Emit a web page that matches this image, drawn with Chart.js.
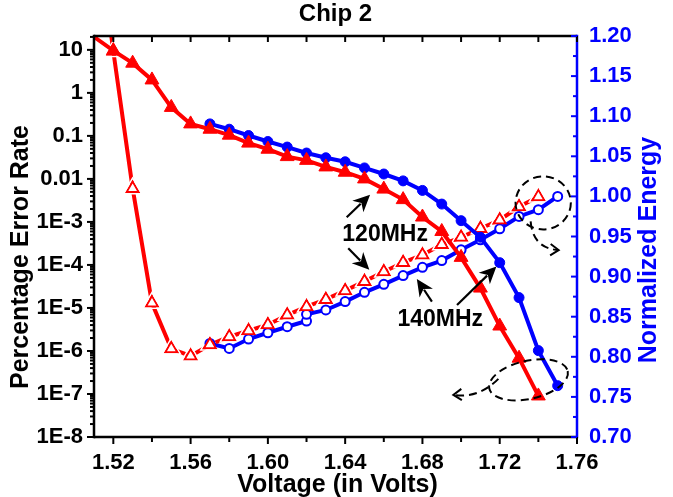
<!DOCTYPE html>
<html>
<head>
<meta charset="utf-8">
<script src="https://cdn.jsdelivr.net/npm/chart.js@4.4.0/dist/chart.umd.min.js"></script>
<style>
  html, body { margin: 0; padding: 0; background: #fff; }
  #wrap { width: 673px; height: 497px; }
</style>
</head>
<body>
<div id="wrap"><canvas id="chart"></canvas></div>
<script>
// Chip 2 - error rate (left, log) and normalized energy (right) vs voltage

// filled markers: percentage error rate
const errVolt120 = [1.51, 1.52, 1.53, 1.54, 1.55, 1.56, 1.57, 1.58, 1.59, 1.60, 1.61, 1.62,
                    1.63, 1.64, 1.65, 1.66, 1.67, 1.68, 1.69, 1.70, 1.71, 1.72, 1.73, 1.74];
const errRate120 = [20, 9.6, 4.9, 2.0, 0.46, 0.19, 0.143, 0.104, 0.068, 0.049, 0.033, 0.027,
                    0.019, 0.0143, 0.0100, 0.0058, 0.0033, 0.0013, 6.0e-4, 1.5e-4, 2.9e-5, 3.8e-6, 6.8e-7, 9.0e-8];

const errVolt140 = [1.57, 1.58, 1.59, 1.60, 1.61, 1.62, 1.63, 1.64, 1.65, 1.66,
                    1.67, 1.68, 1.69, 1.70, 1.71, 1.72, 1.73, 1.74, 1.75];
const errRate140 = [0.19, 0.143, 0.102, 0.074, 0.055, 0.040, 0.031, 0.025, 0.018, 0.013,
                    0.0090, 0.0054, 0.0026, 0.00107, 4.4e-4, 1.13e-4, 1.74e-5, 1.02e-6, 1.56e-7];

// open markers: normalized energy
const enVolt120 = [1.51, 1.52, 1.53, 1.54, 1.55, 1.56, 1.57, 1.58, 1.59, 1.60, 1.61, 1.62,
                   1.63, 1.64, 1.65, 1.66, 1.67, 1.68, 1.69, 1.70, 1.71, 1.72, 1.73, 1.74];
const energy120 = [1.36, 1.181, 1.010, 0.867, 0.810, 0.801, 0.815, 0.825, 0.8325, 0.840, 0.852, 0.8625,
                   0.8716, 0.8825, 0.894, 0.906, 0.9175, 0.927, 0.940, 0.949, 0.960, 0.9706, 0.987, 0.9996];

const enVolt140 = [1.57, 1.58, 1.59, 1.60, 1.61, 1.62, 1.62, 1.63, 1.64, 1.65,
                   1.66, 1.67, 1.68, 1.69, 1.70, 1.71, 1.72, 1.73, 1.74, 1.75];
const energy140 = [0.8166, 0.8104, 0.8221, 0.830, 0.8375, 0.8446, 0.8529, 0.8584, 0.8688, 0.8804,
                   0.8904, 0.9013, 0.9116, 0.920, 0.9334, 0.9459, 0.9596, 0.975, 0.9834, 1.000];

// axes
const voltTicks = [1.52, 1.56, 1.60, 1.64, 1.68, 1.72, 1.76];
const voltMinor = [1.54, 1.58, 1.62, 1.66, 1.70, 1.74];
const errTicks = [1e-8, 1e-7, 1e-6, 1e-5, 1e-4, 1e-3, 0.01, 0.1, 1, 10];
const errLabels = ['1E-8', '1E-7', '1E-6', '1E-5', '1E-4', '1E-3', '0.01', '0.1', '1', '10'];
const energyTicks = [0.70, 0.75, 0.80, 0.85, 0.90, 0.95, 1.00, 1.05, 1.10, 1.15, 1.20];

const RED = '#ff0000';
const BLUE = '#0000ff';
const FONT = '"Liberation Sans", Arial, sans-serif';

// the open red curve stops just short of its triangles (dataset index -> [inner, outer] circumradius)
const symbolGap = { 2: [9, 12] };

function pairs(xs, ys) {
  return xs.map((x, i) => ({ x: x, y: ys[i] }));
}

function line(ctx, x1, y1, x2, y2) {
  ctx.beginPath();
  ctx.moveTo(x1, y1);
  ctx.lineTo(x2, y2);
  ctx.stroke();
}

function triPath(ctx, x, y, r) {
  for (let k = 0; k < 3; k++) {
    const rad = k * 2 * Math.PI / 3;
    const px = x + Math.sin(rad) * r, py = y - Math.cos(rad) * r;
    if (k === 0) ctx.moveTo(px, py); else ctx.lineTo(px, py);
  }
  ctx.closePath();
}

function arrow(ctx, x1, y1, x2, y2) {
  const ang = Math.atan2(y2 - y1, x2 - x1);
  const hl = 17, hw = 8;
  const bx = x2 - hl * Math.cos(ang), by = y2 - hl * Math.sin(ang);
  line(ctx, x1, y1, bx + 4 * Math.cos(ang), by + 4 * Math.sin(ang));
  ctx.beginPath();
  ctx.moveTo(x2, y2);
  ctx.lineTo(bx + hw * Math.sin(ang), by - hw * Math.cos(ang));
  ctx.lineTo(bx + 5 * Math.cos(ang), by + 5 * Math.sin(ang));
  ctx.lineTo(bx - hw * Math.sin(ang), by + hw * Math.cos(ang));
  ctx.closePath();
  ctx.fill();
}

function chevron(ctx, x, y, ang) {
  const l = 10;
  ctx.setLineDash([]);
  ctx.beginPath();
  ctx.moveTo(x - l * Math.cos(ang - 0.6), y - l * Math.sin(ang - 0.6));
  ctx.lineTo(x, y);
  ctx.lineTo(x - l * Math.cos(ang + 0.6), y - l * Math.sin(ang + 0.6));
  ctx.stroke();
}

const gapToSymbol = {
  id: 'gapToSymbol',
  beforeDatasetDraw(chart, args) {
    const g = symbolGap[args.index];
    if (!g) return;
    const ctx = chart.ctx;
    ctx.save();
    ctx.beginPath();
    ctx.rect(0, 0, chart.width, chart.height);
    args.meta.data.forEach(p => {
      triPath(ctx, p.x, p.y, g[1]);
      triPath(ctx, p.x, p.y, g[0]);
    });
    ctx.clip('evenodd');
  },
  afterDatasetDraw(chart, args) {
    if (symbolGap[args.index]) chart.ctx.restore();
  }
};

// frame, tick marks, titles and the annotations
const decorations = {
  id: 'decorations',
  afterDraw(chart) {
    const { ctx, chartArea: a, scales } = chart;
    const sx = scales.x, sy = scales.y, sr = scales.y1;
    ctx.save();

    // frame
    ctx.lineWidth = 2.5;
    ctx.strokeStyle = '#000';
    line(ctx, a.left, a.top, a.right, a.top);
    line(ctx, a.left, a.bottom, a.right, a.bottom);
    line(ctx, a.left, a.top - 1.2, a.left, a.bottom + 1.2);
    ctx.strokeStyle = BLUE;
    line(ctx, a.right, a.top - 1.2, a.right, a.bottom + 1.2);

    // x ticks: outside at the bottom, inside at the top
    ctx.lineWidth = 2;
    ctx.strokeStyle = '#000';
    voltTicks.concat(voltMinor).forEach(v => {
      const px = sx.getPixelForValue(v);
      const len = voltTicks.includes(v) ? 7 : 5;
      line(ctx, px, a.bottom, px, a.bottom + len);
      line(ctx, px, a.top, px, a.top + 6);
    });

    // log ticks on the left, outside
    errTicks.forEach(t => {
      const py = sy.getPixelForValue(t);
      line(ctx, a.left, py, a.left - 7, py);
      for (let m = 2; m <= 9; m++) {
        const v = t * m;
        if (v > sy.max) break;
        const pm = sy.getPixelForValue(v);
        line(ctx, a.left, pm, a.left - 4, pm);
      }
    });

    // energy ticks on the right, inside
    ctx.strokeStyle = BLUE;
    energyTicks.forEach((t, i) => {
      const py = sr.getPixelForValue(t);
      line(ctx, a.right, py, a.right - 6, py);
      if (i < energyTicks.length - 1) {
        const pm = sr.getPixelForValue(t + 0.025);
        line(ctx, a.right, pm, a.right - 4, pm);
      }
    });

    // titles
    ctx.textAlign = 'center';
    ctx.textBaseline = 'middle';
    ctx.fillStyle = '#000';
    ctx.font = 'bold 24px ' + FONT;
    ctx.fillText('Chip 2', (a.left + a.right) / 2, 14);
    ctx.font = 'bold 25px ' + FONT;
    ctx.fillText('Voltage (in Volts)', (a.left + a.right) / 2 + 2, 485);
    ctx.save();
    ctx.translate(21, 257);
    ctx.rotate(-Math.PI / 2);
    ctx.fillText('Percentage Error Rate', 0, 0);
    ctx.restore();
    ctx.save();
    ctx.fillStyle = BLUE;
    ctx.translate(649, 250);
    ctx.rotate(-Math.PI / 2);
    ctx.fillText('Normalized Energy', 0, 0);
    ctx.restore();

    // annotations, placed in voltage / energy units
    const X = v => sx.getPixelForValue(v);
    const Y = e => sr.getPixelForValue(e);
    ctx.font = 'bold 23px ' + FONT;
    ctx.fillStyle = '#000';
    ctx.fillText('120MHz', X(1.6607), Y(0.9525));
    ctx.fillText('140MHz', X(1.6892), Y(0.8463));

    ctx.strokeStyle = '#000';
    ctx.lineWidth = 2.2;
    arrow(ctx, X(1.6408), Y(0.974), X(1.6529), Y(1.0021));
    arrow(ctx, X(1.6416), Y(0.9354), X(1.6525), Y(0.9084));
    arrow(ctx, X(1.6849), Y(0.8688), X(1.6771), Y(0.8971));
    arrow(ctx, X(1.6979), Y(0.8646), X(1.7183), Y(0.9125));

    // dashed loops
    ctx.setLineDash([8, 5]);
    ctx.lineWidth = 2;
    ctx.beginPath();
    ctx.ellipse(X(1.7425), Y(0.9919), X(1.7568) - X(1.7425), Y(0.9919) - Y(1.025), 0, 0, Math.PI * 2);
    ctx.stroke();
    ctx.beginPath();
    ctx.moveTo(X(1.736), Y(0.9688));
    ctx.quadraticCurveTo(X(1.7372), Y(0.935), X(1.7505), Y(0.9331));
    ctx.stroke();
    chevron(ctx, X(1.7505), Y(0.9331), 0.05);

    ctx.setLineDash([8, 5]);
    ctx.beginPath();
    ctx.ellipse(X(1.7349), Y(0.7713), X(1.7557) - X(1.7349), Y(0.7713) - Y(0.7951), -0.22, 0, Math.PI * 2);
    ctx.stroke();
    ctx.beginPath();
    ctx.moveTo(X(1.7193), Y(0.7725));
    ctx.quadraticCurveTo(X(1.709), Y(0.7475), X(1.696), Y(0.7525));
    ctx.stroke();
    chevron(ctx, X(1.696), Y(0.7525), Math.PI - 0.05);

    ctx.restore();
  }
};

new Chart(document.getElementById('chart'), {
  type: 'line',
  data: {
    datasets: [
      {
        label: '120MHz error',
        data: pairs(errVolt120, errRate120),
        yAxisID: 'y',
        borderColor: RED,
        borderWidth: 4,
        pointStyle: 'triangle',
        pointRadius: errVolt120.map((v, i) => i === 0 ? 0 : 8),
        pointBackgroundColor: RED,
        pointBorderColor: RED,
        pointBorderWidth: 1
      },
      {
        label: '140MHz error',
        data: pairs(errVolt140, errRate140),
        yAxisID: 'y',
        borderColor: BLUE,
        borderWidth: 4,
        pointStyle: 'circle',
        pointRadius: 5,
        pointBackgroundColor: BLUE,
        pointBorderColor: BLUE,
        pointBorderWidth: 1
      },
      {
        label: '120MHz energy',
        data: pairs(enVolt120, energy120),
        yAxisID: 'y1',
        borderColor: RED,
        borderWidth: 4,
        pointStyle: 'triangle',
        pointRadius: enVolt120.map((v, i) => i === 0 ? 0 : 7),
        pointBackgroundColor: '#fff',
        pointBorderColor: RED,
        pointBorderWidth: 2
      },
      {
        label: '140MHz energy',
        data: pairs(enVolt140, energy140),
        yAxisID: 'y1',
        borderColor: BLUE,
        borderWidth: 4,
        pointStyle: 'circle',
        pointRadius: 4.5,
        pointBackgroundColor: '#fff',
        pointBorderColor: BLUE,
        pointBorderWidth: 2
      }
    ]
  },
  options: {
    responsive: true,
    maintainAspectRatio: false,
    animation: false,
    devicePixelRatio: 1,
    layout: { padding: { top: 36, left: 0, right: 0, bottom: 0 } },
    plugins: {
      legend: { display: false },
      tooltip: { enabled: false },
      title: { display: false }
    },
    scales: {
      x: {
        type: 'linear',
        min: 1.51,
        max: 1.76,
        afterFit: s => { s.height = 60; },
        afterBuildTicks: s => { s.ticks = voltTicks.map(v => ({ value: v })); },
        grid: { display: true, drawOnChartArea: false, drawTicks: false },
        border: { display: false },
        ticks: {
          padding: 13,
          maxRotation: 0,
          color: '#000',
          font: { family: FONT, size: 22, weight: 'bold' },
          callback: v => v.toFixed(2)
        }
      },
      y: {
        type: 'logarithmic',
        position: 'left',
        min: 1e-8,
        max: 21,
        afterFit: s => { s.width = 94; },
        afterBuildTicks: s => { s.ticks = errTicks.map(v => ({ value: v })); },
        grid: { display: true, drawOnChartArea: false, drawTicks: false },
        border: { display: false },
        ticks: {
          padding: 11,
          color: '#000',
          font: { family: FONT, size: 22, weight: 'bold' },
          callback: (v, i) => errLabels[i]
        }
      },
      y1: {
        type: 'linear',
        position: 'right',
        min: 0.70,
        max: 1.20,
        afterFit: s => { s.width = 96; },
        afterBuildTicks: s => { s.ticks = energyTicks.map(v => ({ value: v })); },
        grid: { display: true, drawOnChartArea: false, drawTicks: false },
        border: { display: false },
        ticks: {
          padding: 12,
          color: BLUE,
          font: { family: FONT, size: 22, weight: 'bold' },
          callback: v => v.toFixed(2)
        }
      }
    }
  },
  plugins: [gapToSymbol, decorations]
});
</script>
</body>
</html>
